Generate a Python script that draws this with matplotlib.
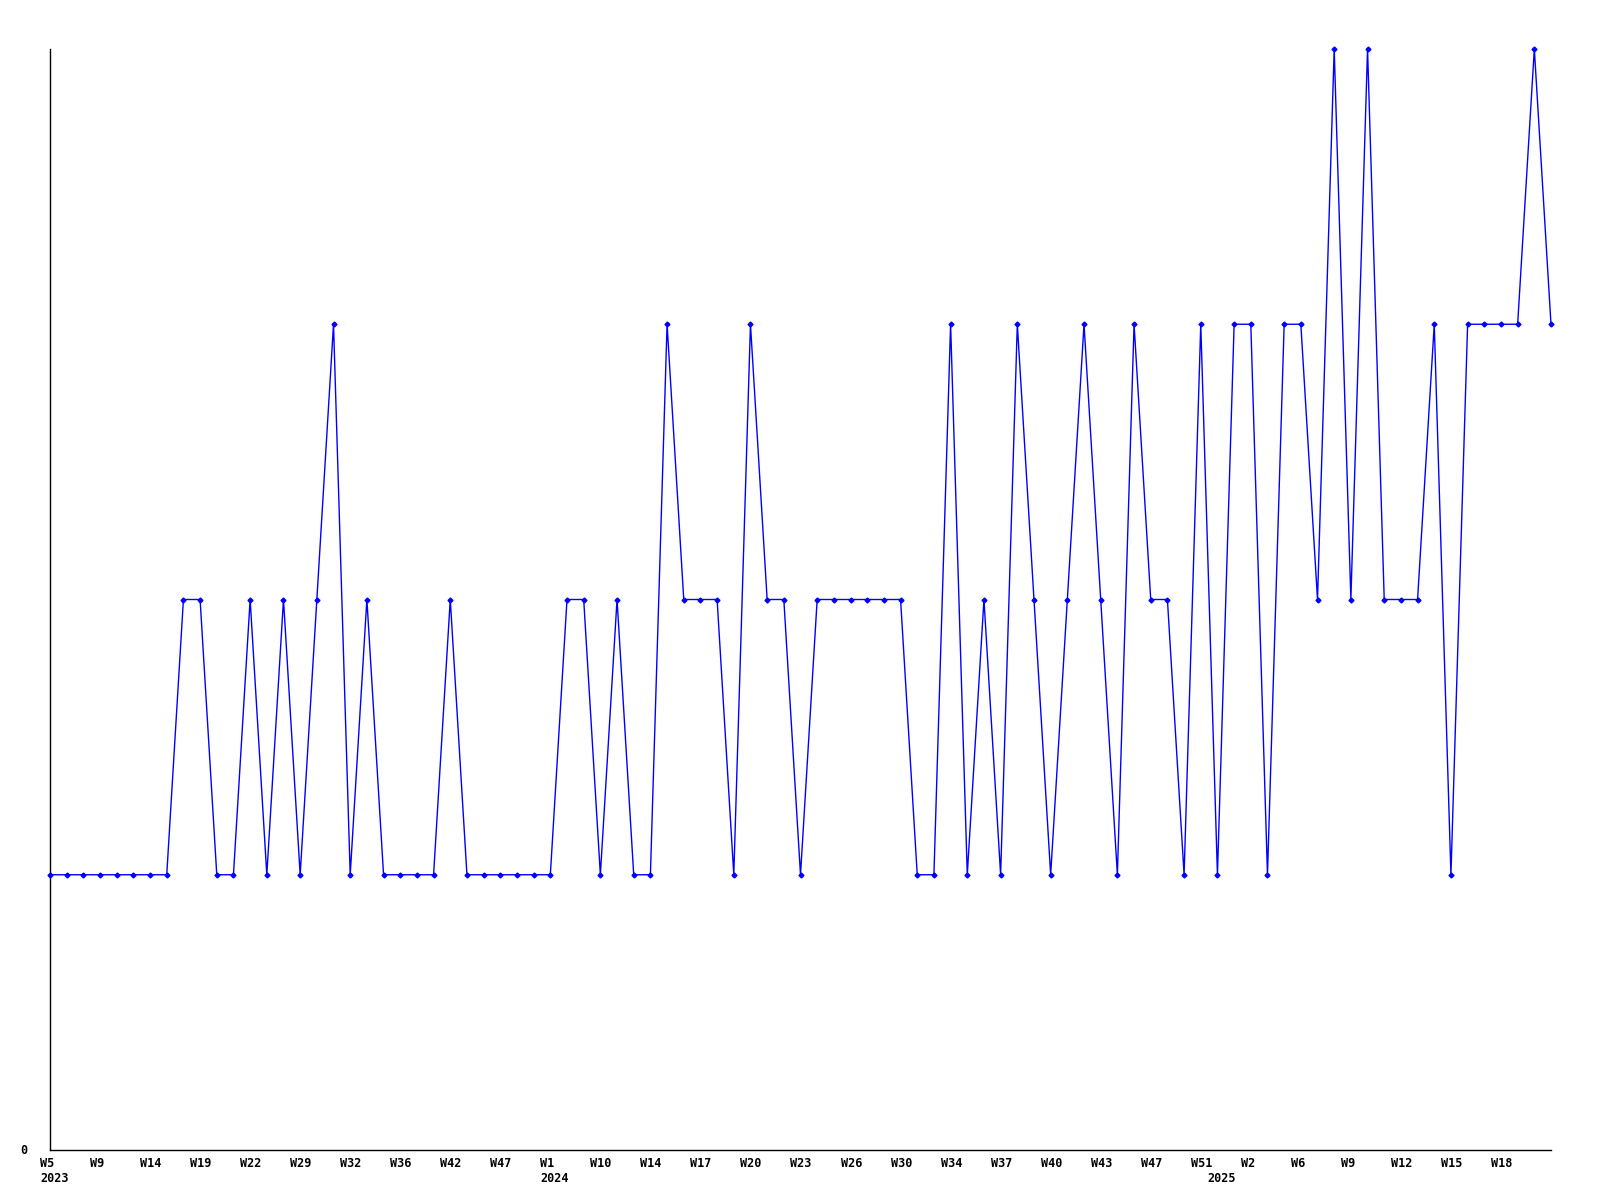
import matplotlib.pyplot as plt
import matplotlib.transforms as mtransforms

# weekly values (one point per entry, categorical x)
values = [
    1, 1, 1, 1, 1, 1, 1, 1, 2, 2,
    1, 1, 2, 1, 2, 1, 2, 3, 1, 2,
    1, 1, 1, 1, 2, 1, 1, 1, 1, 1,
    1, 2, 2, 1, 2, 1, 1, 3, 2, 2,
    2, 1, 3, 2, 2, 1, 2, 2, 2, 2,
    2, 2, 1, 1, 3, 1, 2, 1, 3, 2,
    1, 2, 3, 2, 1, 3, 2, 2, 1, 3,
    1, 3, 3, 1, 3, 3, 2, 4, 2, 4,
    2, 2, 2, 3, 1, 3, 3, 3, 3, 4,
    3,
]

week_labels = ['W5', 'W9', 'W14', 'W19', 'W22', 'W29', 'W32', 'W36', 'W42', 'W47',
               'W1', 'W10', 'W14', 'W17', 'W20', 'W23', 'W26', 'W30', 'W34', 'W37',
               'W40', 'W43', 'W47', 'W51', 'W2', 'W6', 'W9', 'W12', 'W15', 'W18']
week_pos = list(range(0, 90, 3))

year_labels = ['2023', '2024', '2025']
year_pos = [0, 30, 70]

fig = plt.figure(figsize=(16, 12), dpi=100)
ax = fig.add_axes([50/1600, 50/1200, 1501/1600, 1101/1200])

x = list(range(len(values)))
ax.plot(x, values, color='#0000ff', linewidth=1.0, marker='D', markersize=2.5,
        markerfacecolor='#0000ff', markeredgecolor='#0000ff', zorder=3, clip_on=False)

ax.set_xlim(0, len(values) - 1)
ax.set_ylim(0, 4)

for s in ['top', 'right']:
    ax.spines[s].set_visible(False)
for s in ['left', 'bottom']:
    ax.spines[s].set_color('black')
    ax.spines[s].set_linewidth(1.0)

ax.set_xticks([])
ax.set_yticks([])

font = dict(family='DejaVu Sans Mono', fontweight='bold', fontsize=8.5, color='black')
trans = mtransforms.blended_transform_factory(ax.transData, ax.transAxes)
off_week = mtransforms.offset_copy(trans, fig=fig, x=-10, y=-7, units='dots')
off_year = mtransforms.offset_copy(trans, fig=fig, x=-10, y=-22, units='dots')

for p, lab in zip(week_pos, week_labels):
    ax.text(p, 0, lab, transform=off_week, ha='left', va='top', **font)
for p, lab in zip(year_pos, year_labels):
    ax.text(p, 0, lab, transform=off_year, ha='left', va='top', **font)

ax.text(-30/1501, 0, '0', transform=ax.transAxes, ha='left', va='center', **font)

fig.savefig('out.png', dpi=100, facecolor='white')
